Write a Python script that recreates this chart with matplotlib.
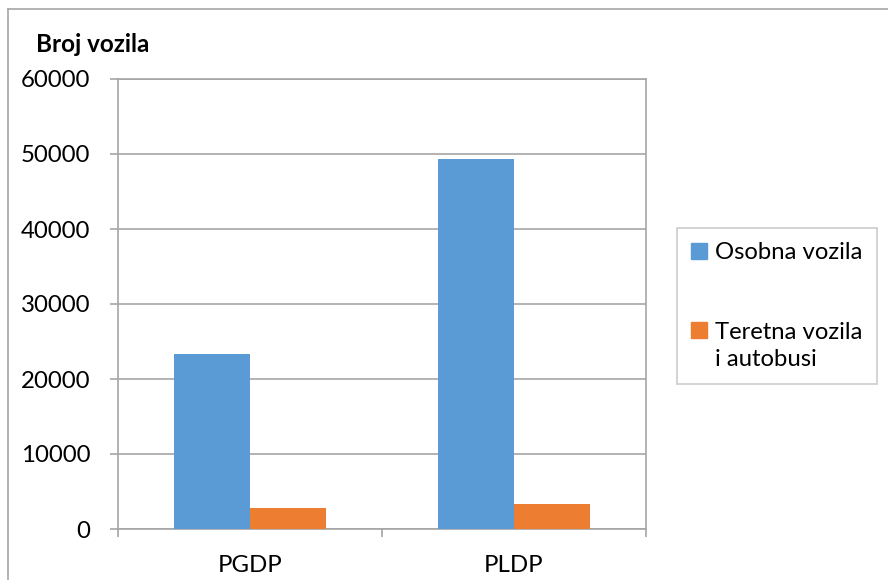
import matplotlib
matplotlib.use("Agg")
import matplotlib.pyplot as plt
import matplotlib.patches as mpatches
from matplotlib.legend_handler import HandlerPatch
from matplotlib.lines import Line2D
import numpy as np

categories = ["PGDP", "PLDP"]
osobna = [23400, 49300]
teretna = [2800, 3300]
series_names = ["Osobna vozila", "Teretna vozila\ni autobusi"]
colours = ["#5B9BD5", "#ED7D31"]
yticks = [0, 10000, 20000, 30000, 40000, 50000, 60000]

plt.rcParams['font.family'] = ['Lato', 'DejaVu Sans']

W, H = 888, 580
fig = plt.figure(figsize=(W / 100, H / 100), dpi=100)
ax = fig.add_axes([118 / W, 1 - 529 / H, (646 - 118) / W, (529 - 79) / H])

x = np.arange(len(categories))
bw = 0.287
ax.bar(x - bw / 2, osobna, bw, color=colours[0], zorder=3)
ax.bar(x + bw / 2, teretna, bw, color=colours[1], zorder=3)

ax.set_xlim(-0.5, len(categories) - 0.5)
ax.set_ylim(0, 60000)
ax.set_yticks(yticks)
ax.set_yticklabels([str(v) for v in yticks], fontsize=17.3)
ax.yaxis.grid(True, color="#A6A6A6", linewidth=1.2, zorder=0)

ax.set_xticks(x)
ax.set_xticklabels(categories, fontsize=17.3)
ax.set_xticks(np.arange(-0.5, len(categories), 1.0), minor=True)
ax.tick_params(axis="x", which="major", length=0, pad=19)
ax.tick_params(axis="x", which="minor", length=6, width=1.2, color="#A6A6A6")
ax.tick_params(axis="y", length=6, width=1.2, color="#A6A6A6", pad=14)

for s in ax.spines.values():
    s.set_color("#A6A6A6")
    s.set_linewidth(1.2)


# put the square next to the first text line (like Excel does)
def first_line_square(legend, orig_handle, xdescent, ydescent, width, height, fontsize):
    n = legend_lines.get(id(orig_handle), 1)
    shift = (n - 1) * fontsize * 1.35 / 2
    return mpatches.Rectangle((-xdescent, -ydescent + shift), width, height)


handles = [mpatches.Patch(color=c) for c in colours]
legend_lines = {id(h): lbl.count("\n") + 1 for h, lbl in zip(handles, series_names)}
leg = fig.legend(handles, series_names, loc="upper left",
                 bbox_to_anchor=(677 / W, 1 - 228 / H), fontsize=17.2,
                 frameon=True, fancybox=False, edgecolor="#BFBFBF",
                 handlelength=0.65, handleheight=0.65, handletextpad=0.35,
                 labelspacing=2.45, borderpad=0.6, borderaxespad=0,
                 handler_map={mpatches.Patch: HandlerPatch(patch_func=first_line_square)})
leg.get_frame().set_linewidth(1.2)
for t in leg.get_texts():
    t.set_linespacing(1.35)

fig.text(36 / W, 1 - 45 / H, "Broj vozila", fontsize=17.5, fontweight="bold",
         ha="left", va="center")

# outer chart border
fig.add_artist(Line2D([8 / W, 8 / W], [1 - 9 / H, -0.1], color="#A6A6A6", lw=1.2))
fig.add_artist(Line2D([8 / W, 1.1], [1 - 9 / H, 1 - 9 / H], color="#A6A6A6", lw=1.2))

fig.savefig("out.png", dpi=100)
